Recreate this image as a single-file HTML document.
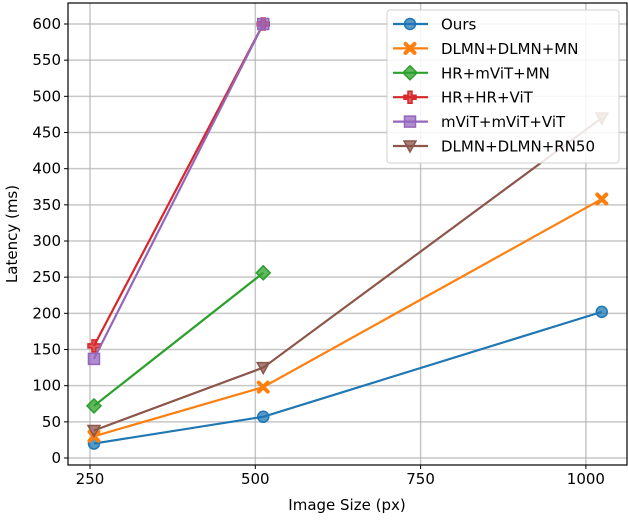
<!DOCTYPE html>
<html><head><meta charset="utf-8"><style>
body{margin:0;background:#fff;font-family:"DejaVu Sans","Liberation Sans",sans-serif;}
svg text{font-family:"DejaVu Sans","Liberation Sans",sans-serif;}
</style></head><body>
<svg id="c" width="628" height="516" xmlns="http://www.w3.org/2000/svg"></svg>
<script>
const xTicks=[250,500,750,1000];
const yTicks=[0,50,100,150,200,250,300,350,400,450,500,550,600];
const seriesNames=["Ours","DLMN+DLMN+MN","HR+mViT+MN","HR+HR+ViT","mViT+mViT+ViT","DLMN+DLMN+RN50"];
const seriesX=[[256,512,1024],[256,512,1024],[256,512],[256,512],[256,512],[256,512,1024]];
const oursVals=[20,57,202];
const dlmnMnVals=[30,98,358];
const hrMvitVals=[72,256];
const hrHrVals=[155,600];
const mvitVals=[137,600];
const rn50Vals=[38,125,470];
const seriesVals=[oursVals,dlmnMnVals,hrMvitVals,hrHrVals,mvitVals,rn50Vals];
const colors=["#1f77b4","#ff7f0e","#2ca02c","#d62728","#9467bd","#8c564b"];
const markers=["circle","x","diamond","plus","square","tri"];
const L=68,R=627,T=3,B=465;
const xs=v=>90+(v-250)*(165.3/250);
const ys=v=>458-v*(434/600);
const NS="http://www.w3.org/2000/svg";
const svg=document.getElementById('c');
function mk(t,a,p){const e=document.createElementNS(NS,t);for(const k in a)e.setAttribute(k,a[k]);(p||svg).appendChild(e);return e;}
xTicks.forEach(t=>{
 const g=mk('line',{x1:xs(t),x2:xs(t),y1:T,y2:B,stroke:'#b0b0b0','stroke-width':1.5,opacity:0.7});
 
 
 mk('line',{x1:xs(t),x2:xs(t),y1:B,y2:B+4,stroke:'#000'});
 const tx=mk('text',{x:xs(t),y:B+19,'text-anchor':'middle','font-size':15});tx.textContent=t;
 
 
});
yTicks.forEach(t=>{
 const g=mk('line',{x1:L,x2:R,y1:ys(t),y2:ys(t),stroke:'#b0b0b0','stroke-width':1.5,opacity:0.7});
 
 
 mk('line',{x1:L-4,x2:L,y1:ys(t),y2:ys(t),stroke:'#000'});
 const tx=mk('text',{x:L-7,y:ys(t)+5,'text-anchor':'end','font-size':15});tx.textContent=t;
 
 
});
function marker(type,x,y,c,p){
 const a={fill:c,'fill-opacity':0.75,stroke:c,'stroke-width':1.5};
 let e;
 if(type==='circle')e=mk('circle',Object.assign({cx:x,cy:y,r:5.5},a),p);
 else if(type==='square')e=mk('rect',Object.assign({x:x-5.5,y:y-5.5,width:11,height:11},a),p);
 else if(type==='diamond')e=mk('polygon',Object.assign({points:`${x},${y-7} ${x+7},${y} ${x},${y+7} ${x-7},${y}`},a),p);
 else if(type==='tri')e=mk('polygon',Object.assign({points:`${x-6},${y-5} ${x+6},${y-5} ${x},${y+6}`},a),p);
 else if(type==='plus')e=mk('path',Object.assign({d:`M${x-2},${y-6}h4v4h4v4h-4v4h-4v-4h-4v-4h4z`},a),p);
 else e=mk('path',{d:`M${x-4.5},${y-4.5}L${x+4.5},${y+4.5}M${x+4.5},${y-4.5}L${x-4.5},${y+4.5}`,stroke:c,'stroke-width':4,fill:'none','stroke-linecap':'round'},p);
 return e;
}
seriesVals.forEach((vals,i)=>{
 const g=mk('g',{});
 
 
 const pts=vals.map((v,j)=>xs(seriesX[i][j])+','+ys(v)).join(' ');
 mk('polyline',{points:pts,fill:'none',stroke:colors[i],'stroke-width':2.2},g);
 vals.forEach((v,j)=>{const m=marker(markers[i],xs(seriesX[i][j]),ys(v),colors[i],g);
  
  });
});
const fr=mk('rect',{x:L,y:T,width:R-L,height:B-T,fill:'none',stroke:'#000','stroke-width':1.2});


const lg=mk('g',{});


mk('rect',{x:387,y:10,width:232,height:153,rx:3,fill:'#fff','fill-opacity':0.85,stroke:'#d0d0d0'},lg);
seriesNames.forEach((n,i)=>{
 const y=24+i*24.4;
 const e=mk('g',{},lg);
 
 
 mk('line',{x1:393,x2:428,y1:y,y2:y,stroke:colors[i],'stroke-width':2.2},e);
 marker(markers[i],410,y,colors[i],e);
 const t=mk('text',{x:441,y:y+5.5,'font-size':15},e);t.textContent=n;
});
const xt=mk('text',{x:347,y:510,'text-anchor':'middle','font-size':15});xt.textContent='Image Size (px)';


const yt=mk('text',{x:17,y:234,'text-anchor':'middle','font-size':15,transform:'rotate(-90 17 234)'});yt.textContent='Latency (ms)';


</script>
</body></html>
